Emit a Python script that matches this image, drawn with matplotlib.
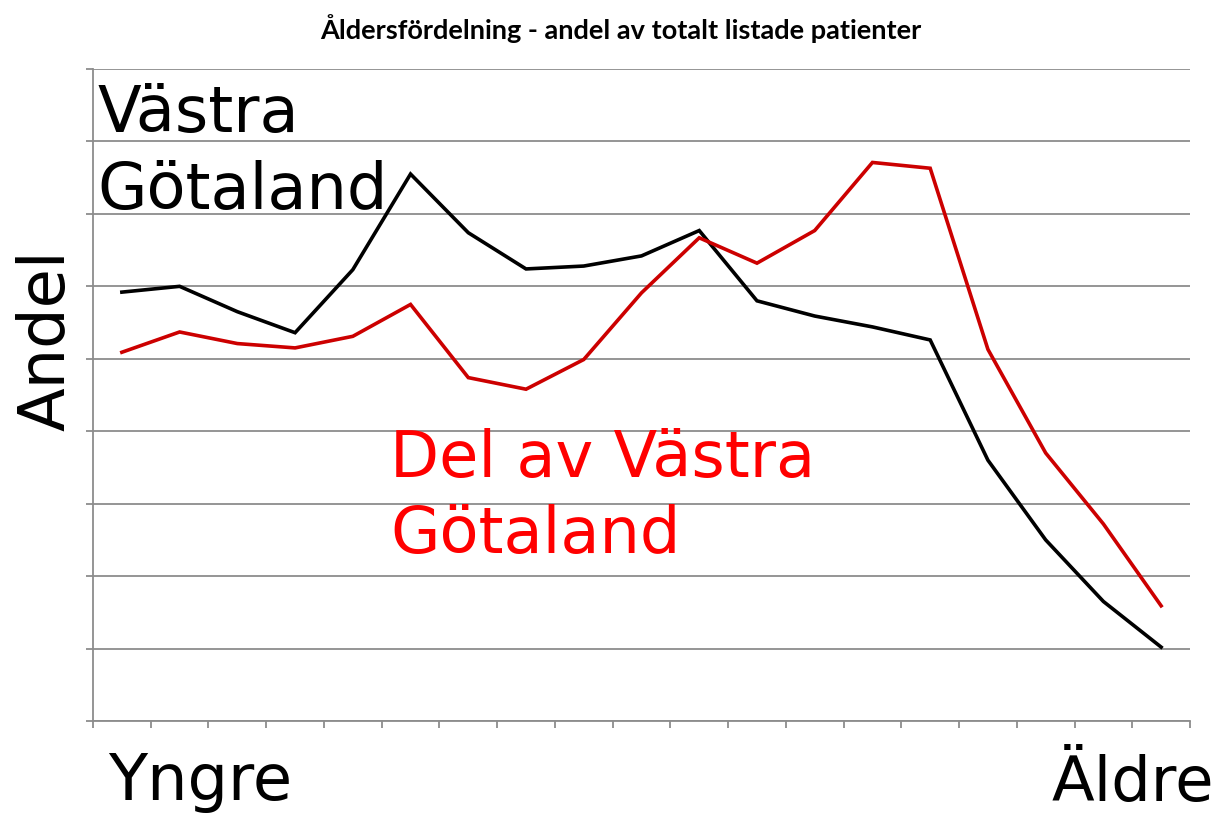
import matplotlib
matplotlib.use("Agg")
import matplotlib.pyplot as plt
import numpy as np

title = "Åldersfördelning - andel av totalt listade patienter"
categories = list(range(19))
vgr_all = [5.92, 6.00, 5.65, 5.36, 6.23, 7.55, 6.74, 6.24, 6.28, 6.42, 6.77,
           5.80, 5.59, 5.44, 5.26, 3.60, 2.50, 1.65, 1.02]
vgr_part = [5.09, 5.37, 5.21, 5.15, 5.31, 5.75, 4.74, 4.58, 4.99, 5.91, 6.67,
            6.32, 6.77, 7.71, 7.63, 5.13, 3.70, 2.72, 1.59]
label_all = ["Västra", "Götaland"]
label_part = ["Del av Västra", "Götaland"]
y_label = "Andel"
x_left_label = "Yngre"
x_right_label = "Äldre"

plt.rcParams['font.family'] = ['DejaVu Sans']
fig = plt.figure(figsize=(12.2, 8.13), dpi=100)
ax = fig.add_axes([93/1220, (813-721)/813, 1097/1220, 652/813])

grid_c = "#8c8c8c"
x = np.array(categories)
ax.plot(x, vgr_all, color="black", lw=2.6, solid_joinstyle="miter", zorder=3)
ax.plot(x, vgr_part, color="#cc0000", lw=2.6, solid_joinstyle="miter", zorder=3)

ax.set_xlim(-0.5, 18.5)
ax.set_ylim(0, 9)
ax.set_yticks(np.arange(0, 10, 1))
ax.set_xticks(np.arange(-0.5, 19, 1))
ax.set_yticklabels([])
ax.set_xticklabels([])
ax.yaxis.grid(True, color=grid_c, lw=1.3)
ax.set_axisbelow(True)
for s in ["top", "right"]:
    ax.spines[s].set_visible(False)
for s in ["left", "bottom"]:
    ax.spines[s].set_color(grid_c)
    ax.spines[s].set_linewidth(1.3)
ax.tick_params(axis="both", direction="out", length=5, width=1.3, color=grid_c)

def ftext(px, py, s, **kw):
    fig.text(px/1220, 1 - py/813, s, **kw)

ftext(621, 29, title, ha="center", va="center", fontsize=19.5,
      fontweight="bold", family="Lato")

ftext(97, 132, label_all[0], fontsize=46, color="black", va="baseline", ha="left")
ftext(97, 209, label_all[1], fontsize=46, color="black", va="baseline", ha="left")
ftext(390, 477, label_part[0], fontsize=46, color="#ff0000", va="baseline", ha="left")
ftext(390, 553, label_part[1], fontsize=46, color="#ff0000", va="baseline", ha="left")
ftext(47, 340, y_label, fontsize=46, color="black", va="center", ha="center", rotation=90)
ftext(108, 800, x_left_label, fontsize=46, color="black", va="baseline", ha="left")
ftext(1214, 801, x_right_label, fontsize=45, color="black", va="baseline", ha="right")

fig.savefig("out.png", dpi=100)
